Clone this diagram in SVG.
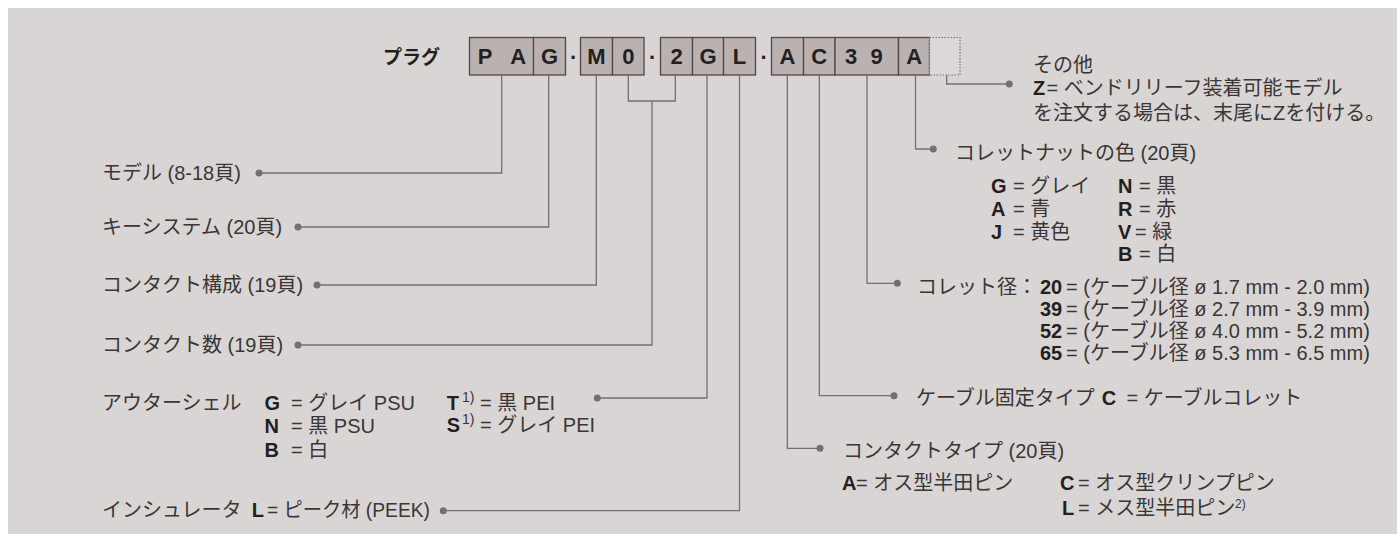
<svg xmlns="http://www.w3.org/2000/svg" width="1397" height="534" viewBox="0 0 1397 534">
<style>
.t{font-family:"Liberation Sans","Noto Sans CJK JP",sans-serif;font-size:20px;fill:#3a3536}
.b{font-family:"Liberation Sans","Noto Sans CJK JP",sans-serif;font-size:20px;font-weight:bold;fill:#231f20}
.s{font-family:"Liberation Sans",sans-serif;font-size:14px;fill:#3a3536}
.k{font-family:"Liberation Sans",sans-serif;font-size:22px;font-weight:bold;fill:#231f20;text-anchor:middle}
.bx{fill:#bab2b1;stroke:#4f4748;stroke-width:1.3}
.ln{fill:none;stroke:#7a6d6e;stroke-width:1.3}
</style>
<defs>
<marker id="dot" markerWidth="8" markerHeight="8" refX="4" refY="4" markerUnits="userSpaceOnUse"><circle cx="4" cy="4" r="3.5" fill="#7a6d6e"/></marker>
</defs>
<rect x="8" y="8" width="1389" height="526" fill="#d9d5d4"/>

<g id="code">
<text class="b" x="383" y="64" style="font-size:19px">プラグ</text>
<g id="box-PA"><rect class="bx" x="469.5" y="37.5" width="64" height="37.5"/><text class="k" x="485" y="64">P</text><text class="k" x="518.3" y="64">A</text></g>
<g id="box-G1"><rect class="bx" x="533.5" y="37.5" width="32" height="37.5"/><text class="k" x="549.5" y="64">G</text></g>
<text class="k" x="573" y="59">.</text>
<g id="box-M"><rect class="bx" x="580.5" y="37.5" width="32" height="37.5"/><text class="k" x="596.5" y="64">M</text></g>
<g id="box-0"><rect class="bx" x="612.5" y="37.5" width="31.5" height="37.5"/><text class="k" x="628.3" y="64">0</text></g>
<text class="k" x="652" y="59">.</text>
<g id="box-2"><rect class="bx" x="660.5" y="37.5" width="32" height="37.5"/><text class="k" x="676.5" y="64">2</text></g>
<g id="box-G2"><rect class="bx" x="692.5" y="37.5" width="31" height="37.5"/><text class="k" x="708" y="64">G</text></g>
<g id="box-L"><rect class="bx" x="723.5" y="37.5" width="32" height="37.5"/><text class="k" x="739.5" y="64">L</text></g>
<text class="k" x="763.5" y="59">.</text>
<g id="box-A1"><rect class="bx" x="771.5" y="37.5" width="32" height="37.5"/><text class="k" x="787.5" y="64">A</text></g>
<g id="box-C"><rect class="bx" x="803.5" y="37.5" width="31.5" height="37.5"/><text class="k" x="819.3" y="64">C</text></g>
<g id="box-39"><rect class="bx" x="835" y="37.5" width="63.5" height="37.5"/><text class="k" x="851" y="64">3</text><text class="k" x="876.7" y="64">9</text></g>
<g id="box-A2"><rect class="bx" x="898.5" y="37.5" width="31" height="37.5"/><text class="k" x="914.3" y="64">A</text></g>
<g id="box-opt"><rect x="929.5" y="37.5" width="30.5" height="37.5" fill="#dcd8d7" stroke="#7a6d6e" stroke-width="1.2" stroke-dasharray="1.5 1.5"/></g>
</g>

<g id="connectors">
<path class="ln" marker-start="url(#dot)" d="M259 173 H501.7 V75"/>
<path class="ln" marker-start="url(#dot)" d="M298 227 H548.7 V75"/>
<path class="ln" marker-start="url(#dot)" d="M317 285 H596.3 V75"/>
<path class="ln" d="M628.3 75 V101 H675.3 V75"/>
<path class="ln" marker-start="url(#dot)" d="M298 345 H652 V101"/>
<path class="ln" marker-start="url(#dot)" d="M597.3 398 H707 V75"/>
<path class="ln" marker-start="url(#dot)" d="M443.3 510.7 H739.5 V75"/>
<path class="ln" marker-start="url(#dot)" d="M820 448.3 H787.3 V75"/>
<path class="ln" marker-start="url(#dot)" d="M894 395.7 H819.3 V75"/>
<path class="ln" marker-start="url(#dot)" d="M897.3 283.3 H867 V75"/>
<path class="ln" marker-start="url(#dot)" d="M933.3 149 H915.5 V75"/>
<path class="ln" marker-start="url(#dot)" d="M1009.3 84 H946.7 V75"/>
</g>

<g id="n-model"><text class="t" x="102" y="180">モデル (8-18頁)</text></g>
<g id="n-key"><text class="t" x="102" y="234">キーシステム (20頁)</text></g>
<g id="n-config"><text class="t" x="102" y="292">コンタクト構成 (19頁)</text></g>
<g id="n-count"><text class="t" x="102" y="352">コンタクト数 (19頁)</text></g>
<g id="n-shell">
<text class="t" x="102" y="410">アウターシェル</text>
<text class="b" x="264.5" y="410">G</text><text class="t" x="291" y="410">= グレイ PSU</text>
<text class="b" x="264.5" y="433">N</text><text class="t" x="291" y="433">= 黒 PSU</text>
<text class="b" x="264.5" y="457">B</text><text class="t" x="291" y="457">= 白</text>
<text class="b" x="446.7" y="410">T</text><text class="s" x="462" y="402">1)</text><text class="t" x="480" y="410">= 黒 PEI</text>
<text class="b" x="446.7" y="432">S</text><text class="s" x="462" y="424">1)</text><text class="t" x="480" y="432">= グレイ PEI</text>
</g>
<g id="n-insulator"><text class="t" x="102" y="517">インシュレータ</text><text class="b" x="251.7" y="517">L</text><text class="t" x="267" y="517" textLength="163" lengthAdjust="spacingAndGlyphs">= ピーク材 (PEEK)</text></g>
<g id="n-other">
<text class="t" x="1033" y="72">その他</text>
<text class="b" x="1033" y="95">Z</text><text class="t" x="1046.5" y="95">= ベンドリリーフ装着可能モデル</text>
<text class="t" x="1033" y="119.5">を注文する場合は、末尾にZを付ける。</text>
</g>
<g id="n-nut">
<text class="t" x="955" y="160">コレットナットの色 (20頁)</text>
<text class="b" x="991" y="193">G</text><text class="t" x="1013" y="193">= グレイ</text>
<text class="b" x="991" y="216">A</text><text class="t" x="1013" y="216">= 青</text>
<text class="b" x="991" y="239">J</text><text class="t" x="1013" y="239">= 黄色</text>
<text class="b" x="1118" y="193">N</text><text class="t" x="1139" y="193">= 黒</text>
<text class="b" x="1118" y="216">R</text><text class="t" x="1139" y="216">= 赤</text>
<text class="b" x="1118" y="239">V</text><text class="t" x="1135" y="239">= 緑</text>
<text class="b" x="1118" y="261">B</text><text class="t" x="1139" y="261">= 白</text>
</g>
<g id="n-collet">
<text class="t" x="917" y="294">コレット径：</text>
<text class="b" x="1040" y="294">20</text><text class="t" x="1066" y="294">= (ケーブル径 ø 1.7 mm - 2.0 mm)</text>
<text class="b" x="1040" y="316">39</text><text class="t" x="1066" y="316">= (ケーブル径 ø 2.7 mm - 3.9 mm)</text>
<text class="b" x="1040" y="338">52</text><text class="t" x="1066" y="338">= (ケーブル径 ø 4.0 mm - 5.2 mm)</text>
<text class="b" x="1040" y="360">65</text><text class="t" x="1066" y="360">= (ケーブル径 ø 5.3 mm - 6.5 mm)</text>
</g>
<g id="n-fix"><text class="t" x="916" y="405">ケーブル固定タイプ</text><text class="b" x="1101.7" y="405">C</text><text class="t" x="1126.5" y="405">= ケーブルコレット</text></g>
<g id="n-type">
<text class="t" x="843" y="458">コンタクトタイプ (20頁)</text>
<text class="b" x="842" y="490">A</text><text class="t" x="856" y="490">= オス型半田ピン</text>
<text class="b" x="1060" y="490">C</text><text class="t" x="1078" y="490">= オス型クリンプピン</text>
<text class="b" x="1062" y="515">L</text><text class="t" x="1078" y="515">= メス型半田ピン</text><text class="s" x="1235" y="508" style="font-size:12px">2)</text>
</g>
</svg>
